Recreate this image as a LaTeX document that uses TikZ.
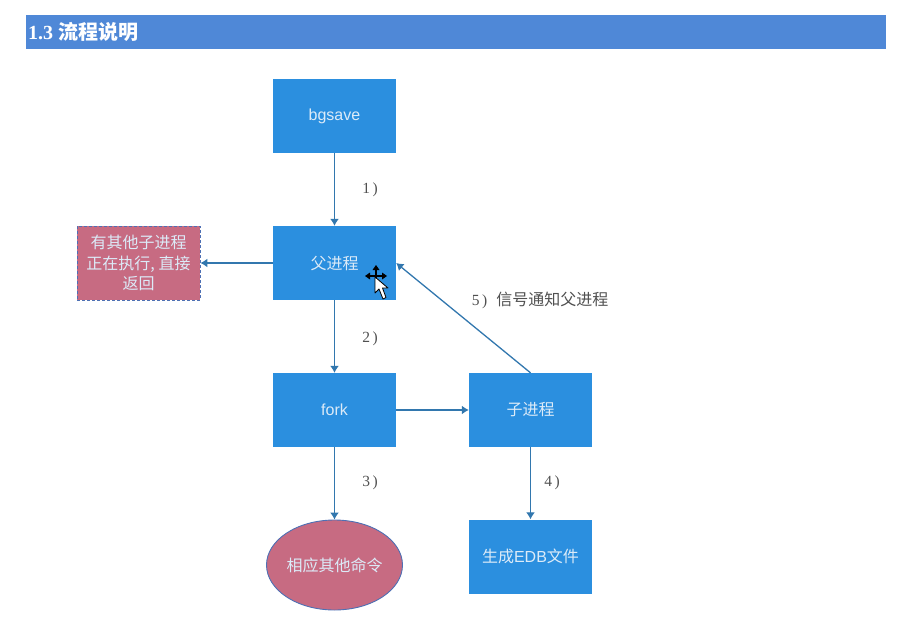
\documentclass[tikz,border=0pt]{standalone}
\usepackage{fontspec}
\setmainfont{Liberation Sans}
\newfontfamily\cjk{Noto Sans CJK SC}
\newfontfamily\serifnum{Liberation Serif}
\usepackage{tikz}
\usepackage{color}
\usetikzlibrary{arrows.meta}
\usetikzlibrary{shapes.geometric}
\definecolor{bannerblue}{HTML}{4F88D7}
\definecolor{boxblue}{HTML}{2B8FDF}
\definecolor{rosered}{HTML}{C76B82}
\definecolor{linkblue}{HTML}{3277AE}
\definecolor{rimblue}{HTML}{4E70B4}
\definecolor{softwhite}{HTML}{DCEBF8}
\definecolor{notegray}{HTML}{505050}
\tikzset{
	flowbox/.style={fill=boxblue, text=softwhite, minimum width=123pt, minimum height=74pt, inner sep=0pt, font=\fontsize{16}{18}\selectfont},
	stepnote/.style={text=notegray, inner sep=0pt, font=\fontsize{15.5}{18}\selectfont},
	link/.style={-{Latex[length=7pt,width=9pt]}, draw=linkblue, line width=1.3pt}
}

\begin{document}
\begin{tikzpicture}[x=1pt,y=-1pt]
		\useasboundingbox (0,0) rectangle (923,623);

		\node (banner) at (456,32) [fill=bannerblue, minimum width=860pt, minimum height=34pt, inner sep=0pt] {};
		\node (title) at (83,32) [text=white, inner sep=0pt, font=\fontsize{20}{24}\selectfont] {\serifnum\bfseries 1.3 \cjk\bfseries 流程说明};

		\node (bgsave) at (334.5,116) [flowbox] {\raisebox{-1pt}{bgsave}};
		\node (parent) at (334.5,263) [flowbox] {\cjk 父进程};
		\node (fork) at (334.5,410) [flowbox] {fork};
		\node (child) at (530.5,410) [flowbox] {\cjk 子进程};
		\node (edb) at (530.5,556.5) [flowbox] {{\cjk 生成}EDB{\cjk 文件}};
		\node (busy) at (138.5,263) [flowbox, fill=rosered, draw=rimblue, densely dashed, line width=0.8pt, align=center, font=\fontsize{16}{20.5}\selectfont\cjk] {有其他子进程\\正在执行, 直接\\返回};
		\node (other) at (334.5,565) [ellipse, fill=rosered, draw=rimblue, line width=0.9pt, text=softwhite, minimum width=136pt, minimum height=90pt, inner sep=0pt, font=\fontsize{16}{18}\selectfont\cjk] {相应其他命令};

		\node (n1) at (370,190) [stepnote] {\serifnum 1\,)};
		\node (n2) at (370,339) [stepnote] {\serifnum 2\,)};
		\node (n3) at (370,483) [stepnote] {\serifnum 3\,)};
		\node (n4) at (552,483) [stepnote] {\serifnum 4\,)};
		\node (n5) at (540,300) [stepnote] {{\serifnum 5\,)}\hspace{9pt}{\fontsize{16}{18}\selectfont\cjk 信号通知父进程}};

		\draw [link] (bgsave) -- (parent);
		\draw [link] (parent) -- (busy);
		\draw [link] (parent) -- (fork);
		\draw [link] (fork) -- (child);
		\draw [link] (fork) -- (other);
		\draw [link] (child) -- (edb);
		\draw [link] (child.north) -- (parent.east);

		% mouse pointer over the parent box
		\draw [black, line width=1.5pt] (367,276) -- (385,276) (376,267) -- (376,285);
		\fill [black] (376,265) -- (372.5,270) -- (379.5,270) -- cycle (365,276) -- (370,272.5) -- (370,279.5) -- cycle (387,276) -- (382,272.5) -- (382,279.5) -- cycle;
		\draw [fill=white, draw=black, line width=0.8pt, line join=round] (375,277) -- (375,293) -- (379,289) -- (383,299) -- (386,297.5) -- (382.5,288) -- (388,288) -- cycle;
	\end{tikzpicture}
\end{document}
